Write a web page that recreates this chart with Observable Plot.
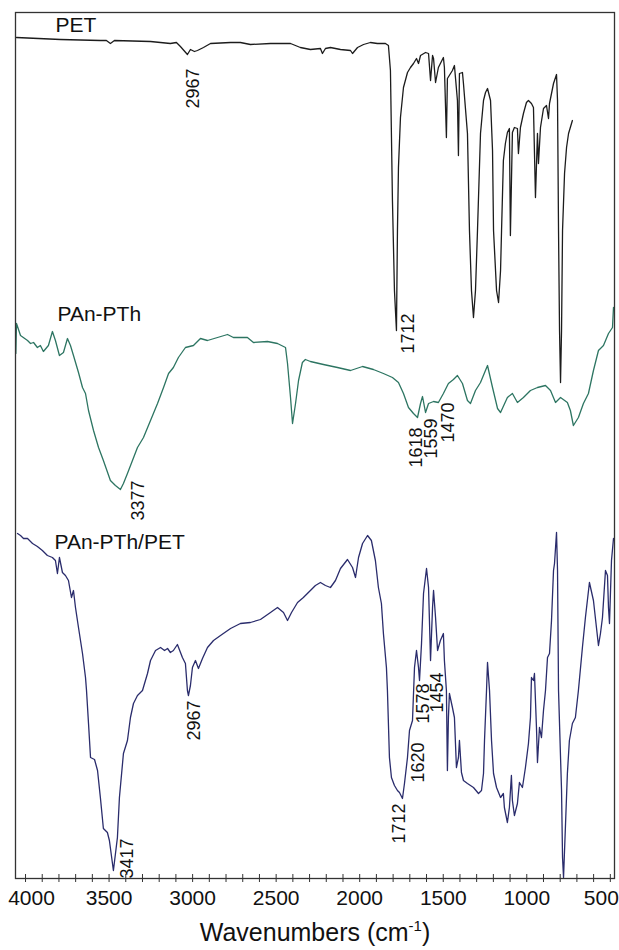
<!DOCTYPE html>
<html><head><meta charset="utf-8">
<script src="https://cdn.jsdelivr.net/npm/d3@7"></script>
<script src="https://cdn.jsdelivr.net/npm/@observablehq/plot@0.6"></script>
<style>
html,body{margin:0;padding:0;background:#fff;}
#chart svg{display:block;font-family:"Liberation Sans",Arial,sans-serif;}
</style></head><body><div id="chart"></div>
<script>
// [wavenumber (cm-1), transmittance (arbitrary offset units)]
const petSpectrum = [[4054,841],[3791,839],[3552,838],[3516,838],[3492,835],[3468,838],[3252,837],[3133,835],[3097,836],[3073,832],[3031,824],[3013,829],[2989,827],[2971,828],[2935,831],[2893,835],[2773,836],[2714,836],[2654,834],[2534,835],[2414,835],[2355,831],[2295,829],[2235,830],[2223,825],[2205,830],[2175,831],[2115,829],[2055,828],[2043,825],[2013,831],[1977,834],[1936,836],[1894,835],[1846,835],[1828,833],[1816,808],[1804,678],[1792,588],[1780,548],[1774,648],[1768,711],[1756,761],[1738,791],[1714,806],[1696,811],[1678,815],[1660,820],[1648,815],[1636,823],[1606,826],[1588,825],[1576,798],[1564,823],[1558,820],[1546,796],[1529,811],[1499,821],[1493,811],[1481,741],[1475,800],[1445,808],[1433,813],[1415,778],[1409,723],[1403,805],[1385,806],[1379,795],[1355,745],[1343,648],[1331,588],[1319,561],[1307,588],[1295,648],[1277,745],[1259,778],[1247,786],[1235,790],[1217,778],[1205,728],[1199,648],[1181,588],[1169,576],[1157,608],[1151,648],[1140,718],[1128,735],[1116,746],[1104,750],[1098,643],[1086,746],[1074,751],[1056,750],[1050,725],[1038,751],[1020,765],[1002,776],[990,778],[972,775],[960,771],[948,681],[936,745],[930,715],[918,751],[900,770],[882,773],[870,760],[864,775],[840,795],[822,804],[816,778],[810,648],[804,548],[798,496],[792,548],[786,648],[774,705],[762,731],[750,745],[727,758]];

const panPthSpectrum = [[4058,525],[4054,555],[4030,543],[3988,538],[3970,535],[3952,536],[3929,531],[3911,533],[3893,527],[3863,533],[3839,547],[3821,538],[3797,523],[3773,526],[3749,540],[3731,533],[3713,523],[3683,506],[3659,491],[3641,485],[3623,468],[3593,448],[3563,431],[3534,418],[3492,398],[3462,393],[3432,389],[3414,395],[3390,405],[3360,418],[3330,431],[3294,441],[3252,458],[3210,475],[3174,491],[3144,505],[3115,511],[3085,521],[3043,531],[2995,533],[2953,540],[2911,538],[2851,541],[2791,544],[2756,541],[2672,541],[2636,536],[2552,537],[2492,535],[2444,531],[2432,515],[2414,481],[2402,455],[2384,475],[2366,498],[2343,516],[2325,519],[2295,517],[2217,514],[2133,511],[2055,508],[1983,512],[1918,509],[1858,505],[1804,501],[1768,496],[1738,485],[1708,471],[1678,465],[1654,461],[1636,475],[1624,482],[1606,466],[1588,475],[1558,477],[1529,476],[1499,485],[1469,495],[1439,499],[1415,503],[1385,495],[1355,478],[1337,475],[1307,488],[1277,496],[1235,513],[1205,491],[1175,470],[1157,466],[1116,481],[1086,485],[1056,476],[1020,481],[978,488],[936,491],[888,493],[858,488],[828,476],[798,481],[757,476],[739,468],[721,453],[691,461],[661,475],[631,485],[601,508],[571,528],[541,533],[511,545],[487,551],[481,571]];

const compositeSpectrum = [[4048,345],[4030,343],[4012,340],[3988,340],[3958,335],[3929,332],[3899,328],[3869,323],[3839,321],[3821,318],[3809,305],[3797,321],[3779,306],[3761,303],[3743,298],[3725,281],[3713,288],[3701,271],[3683,251],[3659,225],[3641,201],[3635,188],[3623,155],[3611,121],[3587,119],[3569,108],[3552,81],[3534,50],[3510,46],[3498,38],[3474,8],[3450,41],[3438,81],[3414,125],[3390,138],[3372,161],[3354,175],[3330,183],[3312,186],[3300,188],[3270,205],[3252,218],[3222,228],[3192,231],[3168,228],[3150,230],[3133,226],[3115,228],[3091,234],[3061,221],[3043,215],[3031,188],[3025,183],[3013,193],[3001,211],[2983,218],[2965,210],[2941,220],[2911,231],[2875,238],[2833,243],[2773,250],[2714,255],[2654,256],[2594,259],[2534,266],[2492,271],[2456,266],[2432,258],[2408,266],[2372,276],[2337,281],[2295,288],[2265,293],[2235,296],[2205,293],[2175,291],[2145,298],[2115,310],[2073,319],[2043,311],[2025,301],[2007,321],[1983,335],[1953,343],[1930,338],[1906,318],[1888,291],[1870,275],[1858,245],[1840,211],[1834,188],[1822,121],[1810,101],[1792,93],[1774,88],[1762,86],[1744,80],[1732,95],[1714,121],[1702,148],[1684,158],[1672,211],[1660,228],[1648,211],[1642,198],[1630,235],[1618,285],[1600,310],[1588,291],[1576,218],[1564,271],[1558,288],[1546,261],[1534,228],[1517,238],[1499,245],[1493,218],[1481,188],[1475,108],[1469,161],[1463,185],[1445,171],[1433,161],[1421,111],[1409,121],[1403,138],[1391,106],[1379,98],[1355,95],[1319,91],[1289,85],[1271,88],[1259,105],[1253,138],[1241,188],[1235,216],[1223,188],[1211,138],[1199,105],[1181,91],[1157,81],[1140,85],[1134,71],[1116,56],[1104,71],[1092,103],[1086,78],[1074,63],[1056,75],[1044,96],[1026,91],[1008,111],[990,135],[978,161],[972,201],[960,198],[954,205],[942,151],[936,116],[924,151],[912,141],[900,168],[888,188],[876,221],[864,225],[852,258],[840,308],[834,315],[822,346],[816,308],[810,188],[792,88],[786,21],[780,1],[768,55],[757,105],[745,138],[727,155],[709,161],[691,188],[667,231],[649,261],[625,296],[601,278],[583,251],[571,233],[559,245],[547,261],[529,308],[517,303],[511,271],[505,255],[493,318],[481,340]];

const seriesNames = ["PET", "PAn-PTh", "PAn-PTh/PET"];
const seriesColors = ["#1c1c1c", "#2d7562", "#2a2c6c"];
const seriesLabelWavenumber = [3821, 3809, 3827];
const seriesLabelLevel = [853, 564, 336];

const peakLabels = ["2967", "1712", "3377", "1618", "1559", "1470", "2967", "3417", "1712", "1620", "1578", "1454"];
const peakLabelWavenumber = [2995, 1708, 3324, 1660, 1570, 1469, 2989, 3390, 1762, 1648, 1618, 1535];
const peakLabelLevel = [810, 565, 398, 451, 460, 476, 178, 40, 75, 136, 195, 206];

const majorTicks = [4000, 3500, 3000, 2500, 2000, 1500, 1000, 500];
const minorTicks = d3.range(500, 4001, 100);

const spectra = [petSpectrum, panPthSpectrum, compositeSpectrum].map((s, i) =>
  s.map(([w, t]) => ({w, t, series: seriesNames[i]})));
const lines = spectra.flat();
const seriesLabels = seriesNames.map((name, i) => ({name, w: seriesLabelWavenumber[i], t: seriesLabelLevel[i]}));
const peaks = peakLabels.map((label, i) => ({label, w: peakLabelWavenumber[i], t: peakLabelLevel[i]}));

const W = 619, H = 950, mt = 12, mb = 72, ml = 15, mr = 5;
const innerH = H - mt - mb;
const tickLabelStyle = {tickSize: 0, tickPadding: 12, fontSize: 21, tickFormat: d => String(d), fill: "#111"};
const first = majorTicks[0], last = majorTicks[majorTicks.length - 1];

const chart = Plot.plot({
  width: W, height: H,
  marginTop: mt, marginBottom: mb, marginLeft: ml, marginRight: mr,
  style: {fontFamily: '"Liberation Sans", Arial, sans-serif', background: "#fff", color: "#111"},
  x: {domain: [4060, 475], label: null},
  y: {domain: [0, 866], axis: null},
  color: {domain: seriesNames, range: seriesColors},
  marks: [
    Plot.line(lines, {x: "w", y: "t", z: "series", stroke: "series", strokeWidth: 1.3, curve: "linear"}),
    Plot.tickX(minorTicks, {x: d => d, stroke: "#333", strokeWidth: 1, insetTop: innerH - 4, insetBottom: -4}),
    Plot.axisX(majorTicks.slice(1, -1), {...tickLabelStyle,
      label: "Wavenumbers (cm-1)", labelAnchor: "center", labelOffset: 62}),
    Plot.axisX([first], {...tickLabelStyle, dx: 6, label: null}),
    Plot.axisX([last], {...tickLabelStyle, dx: -9, label: null}),
    Plot.frame({stroke: "#333", strokeWidth: 1.3}),
    Plot.text(seriesLabels, {x: "w", y: "t", text: "name", textAnchor: "start", fontSize: 21, fill: "#111"}),
    Plot.text(peaks, {x: "w", y: "t", text: "label", rotate: -90, textAnchor: "end", fontSize: 18, fill: "#111"})
  ]
});
document.getElementById("chart").appendChild(chart);

// superscript in axis title
const lab = chart.querySelector('g[aria-label="x-axis label"] text');
if (lab) {
  lab.textContent = "";
  lab.setAttribute("font-size", 25);
  const ns = "http://www.w3.org/2000/svg";
  const t1 = document.createElementNS(ns, "tspan"); t1.textContent = "Wavenumbers (cm";
  const t2 = document.createElementNS(ns, "tspan"); t2.textContent = "-1"; t2.setAttribute("font-size", 15); t2.setAttribute("dy", -10);
  const t3 = document.createElementNS(ns, "tspan"); t3.textContent = ")"; t3.setAttribute("dy", 10);
  lab.append(t1, t2, t3);
}
</script></body></html>
